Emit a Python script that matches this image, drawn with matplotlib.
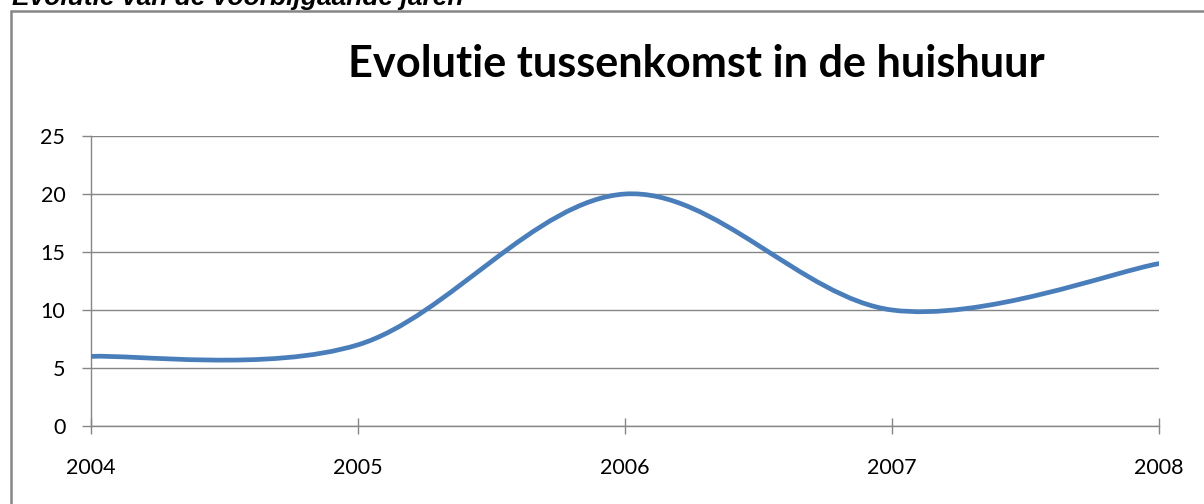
import numpy as np
import matplotlib
matplotlib.use("Agg")
import matplotlib.pyplot as plt
from matplotlib.path import Path
from matplotlib.patches import PathPatch, Rectangle

years = [2004, 2005, 2006, 2007, 2008]
values = [6, 7, 20, 10, 14]
y_ticks = [0, 5, 10, 15, 20, 25]

title = "Evolutie tussenkomst in de huishuur"
heading = "Evolutie van de voorbijgaande jaren"


def smooth_path(x, y):
    # Excel style smoothed line: cubic bezier, control points from neighbours
    pts = np.column_stack([x, y]).astype(float)
    n = len(pts)
    verts = [pts[0]]
    codes = [Path.MOVETO]
    for i in range(n - 1):
        p0 = pts[max(i - 1, 0)]
        p1 = pts[i]
        p2 = pts[i + 1]
        p3 = pts[min(i + 2, n - 1)]
        c1 = p1 + (p2 - p0) / 6.0
        c2 = p2 - (p3 - p1) / 6.0
        verts += [c1, c2, p2]
        codes += [Path.CURVE4] * 3
    return Path(verts, codes)


def fit_width(fig, txt, width_px):
    # scale a text's font size so it spans the given width in pixels
    r = fig.canvas.get_renderer()
    w = txt.get_window_extent(r).width
    txt.set_fontsize(txt.get_fontsize() * width_px / w)


fig = plt.figure(figsize=(12.04, 5.04), dpi=100)
grey = "#868686"

# outer chart border (cut off on the right and bottom)
fig.patches.append(Rectangle((11 / 1204, -0.1), 1.2, 1 - 11 / 504 + 0.1,
                             transform=fig.transFigure, fill=False,
                             edgecolor=grey, linewidth=1.8))

head = fig.text(12 / 1204, 1 - 4.5 / 504, heading, fontsize=16, fontweight="bold",
                fontstyle="italic", family="Liberation Sans", va="baseline", ha="left")
fit_width(fig, head, 453)

ttl = fig.text(348 / 1204, 1 - 77 / 504, title, fontsize=28, fontweight="bold",
               family="Lato", ha="left", va="baseline")
fit_width(fig, ttl, 695)

probe = fig.text(0, 0, "2004", fontsize=15, family="Lato")
fit_width(fig, probe, 50)
tick_size = probe.get_fontsize()
probe.remove()

ax = fig.add_axes([91 / 1204, 78 / 504, 1068 / 1204, 290 / 504])
ax.set_xlim(years[0], years[-1])
ax.set_ylim(0, 25)

ax.add_patch(PathPatch(smooth_path(years, values), facecolor="none",
                       edgecolor="#4A7EBB", linewidth=3.4, capstyle="round",
                       zorder=3))

ax.set_yticks(y_ticks)
ax.set_xticks(years)
ax.set_xticklabels([str(y) for y in years])
ax.yaxis.grid(True, color=grey, linewidth=1.0)
ax.set_axisbelow(True)

for s in ["top", "right"]:
    ax.spines[s].set_visible(False)
for s in ["left", "bottom"]:
    ax.spines[s].set_color(grey)
    ax.spines[s].set_linewidth(1.0)

ax.tick_params(axis="y", direction="out", length=6.5, width=1.0, color=grey,
               pad=12, labelsize=tick_size)
ax.tick_params(axis="x", direction="inout", length=11.5, width=1.0, color=grey,
               pad=17, labelsize=tick_size)
for lab in ax.get_xticklabels() + ax.get_yticklabels():
    lab.set_family("Lato")

fig.savefig("out.png", dpi=100)
